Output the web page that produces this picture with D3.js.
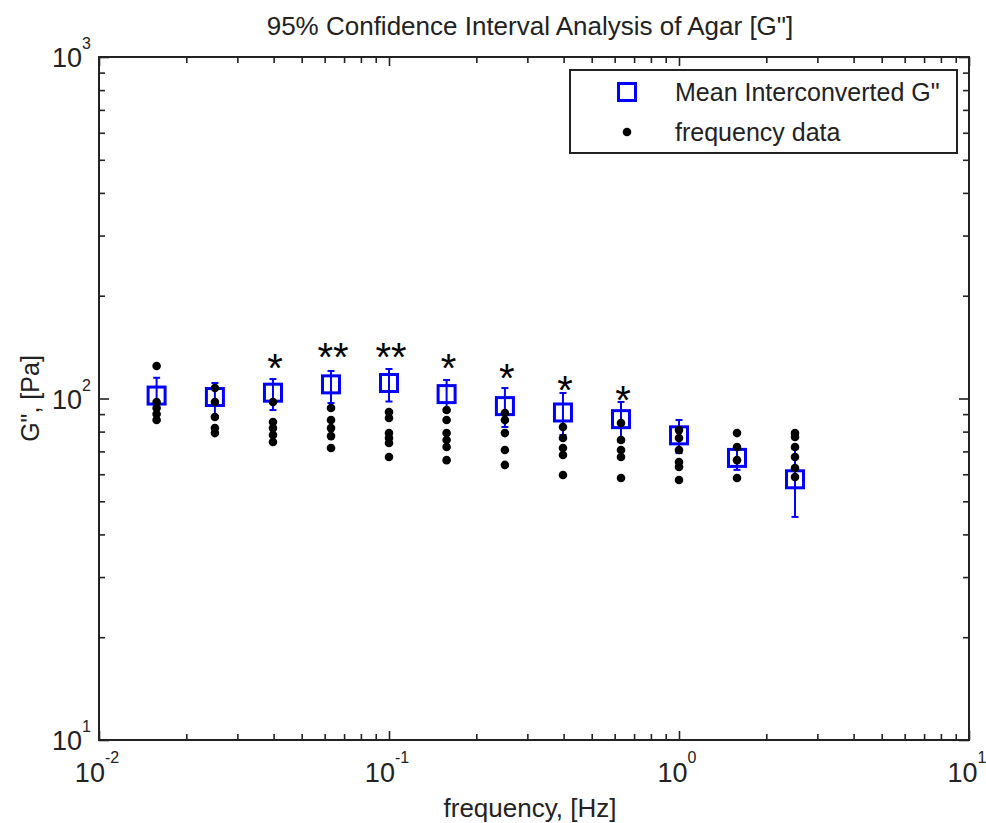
<!DOCTYPE html>
<html>
<head>
<meta charset="utf-8">
<script src="https://cdn.jsdelivr.net/npm/d3@7"></script>
<style>
  html, body { margin: 0; padding: 0; background: #ffffff; }
  svg { display: block; }
  text { font-family: "Liberation Sans", Arial, Helvetica, sans-serif; fill: #222; }
</style>
</head>
<body>
<svg id="chart" width="986" height="823"></svg>
<script>
// ---------------- data ----------------
const freq = [0.0158, 0.0251, 0.0398, 0.0631, 0.1, 0.158, 0.251, 0.398, 0.631, 1.0, 1.585, 2.512];
const meanG = [102, 101, 104, 110, 111, 103, 95, 91, 87, 78, 67, 58];
const ciLow = [90, 89, 92.5, 97, 98, 91.3, 82.5, 78.2, 74.6, 69.2, 61.8, 45];
const ciHigh = [115, 111, 114, 120.4, 122, 113.3, 107.3, 103.8, 97.7, 86.5, 72.1, 71.2];
const rawData = [
  [124.5, 97.7, 93.8, 90.1, 86.5],
  [107.3, 97.7, 88.3, 81.9, 79.2],
  [97.7, 85.3, 81.9, 78.2, 74.6],
  [93.8, 86.5, 81.9, 77.6, 71.6],
  [91.3, 87.7, 79.2, 76.6, 74.1, 67.4],
  [92.5, 86.5, 79.2, 75.6, 72.1, 66.0],
  [90.7, 86.5, 79.2, 70.7, 63.9],
  [82.5, 76.6, 71.6, 68.3, 59.7],
  [84.8, 75.6, 70.7, 67.4, 58.5],
  [80.8, 76.6, 70.7, 65.2, 63.0, 57.7],
  [79.2, 72.1, 66.0, 58.5],
  [79.2, 77.1, 72.1, 67.4, 62.6, 58.9]
];
const starFreq = [0.0398, 0.0631, 0.1, 0.158, 0.251, 0.398, 0.631];
const starLabel = ["*", "**", "**", "*", "*", "*", "*"];
const starG = [131.4, 141.5, 141.5, 131.4, 122.8, 113.3, 105.9];

const xTickValues = [0.01, 0.1, 1, 10];
const xTickExp = ["-2", "-1", "0", "1"];
const yTickValues = [10, 100, 1000];
const yTickExp = ["1", "2", "3"];

const titleText = "95% Confidence Interval Analysis of Agar [G\"]";
const xLabelText = "frequency, [Hz]";
const yLabelText = "G\", [Pa]";
const legendLabels = ["Mean Interconverted G\"", "frequency data"];

// ---------------- layout ----------------
const W = 986, H = 823;
const L = 99, R = 969, T = 57, B = 740;
const blue = "#0000ff";
const axisColor = "#222";

const svg = d3.select("#chart");
const x = d3.scaleLog().domain([0.01, 10]).range([L, R]);
const y = d3.scaleLog().domain([10, 1000]).range([B, T]);

const isMajor = v => Math.abs(Math.log10(v) - Math.round(Math.log10(v))) < 1e-9;
const xMinor = x.ticks().filter(v => !isMajor(v));
const yMinor = y.ticks().filter(v => !isMajor(v));

function styleAxis(g) {
  g.select(".domain").remove();
  g.selectAll(".tick line").attr("stroke", axisColor).attr("stroke-width", 1.6);
  g.selectAll(".tick text").remove();
}

// axes ticks (inside)
svg.append("g").attr("transform", `translate(0,${B})`)
  .call(d3.axisBottom(x).tickValues(xTickValues).tickSize(-9).tickFormat("")).call(styleAxis);
svg.append("g").attr("transform", `translate(0,${B})`)
  .call(d3.axisBottom(x).tickValues(xMinor).tickSize(-6).tickFormat("")).call(styleAxis);
svg.append("g").attr("transform", `translate(0,${T})`)
  .call(d3.axisTop(x).tickValues(xTickValues).tickSize(-9).tickFormat("")).call(styleAxis);
svg.append("g").attr("transform", `translate(0,${T})`)
  .call(d3.axisTop(x).tickValues(xMinor).tickSize(-6).tickFormat("")).call(styleAxis);
svg.append("g").attr("transform", `translate(${L},0)`)
  .call(d3.axisLeft(y).tickValues(yTickValues).tickSize(-10).tickFormat("")).call(styleAxis);
svg.append("g").attr("transform", `translate(${L},0)`)
  .call(d3.axisLeft(y).tickValues(yMinor).tickSize(-6).tickFormat("")).call(styleAxis);
svg.append("g").attr("transform", `translate(${R},0)`)
  .call(d3.axisRight(y).tickValues(yTickValues).tickSize(-10).tickFormat("")).call(styleAxis);
svg.append("g").attr("transform", `translate(${R},0)`)
  .call(d3.axisRight(y).tickValues(yMinor).tickSize(-6).tickFormat("")).call(styleAxis);

// frame
svg.append("rect").attr("x", L).attr("y", T).attr("width", R - L).attr("height", B - T)
  .attr("fill", "none").attr("stroke", axisColor).attr("stroke-width", 2);

// tick labels
const xl = svg.append("g").selectAll("text").data(xTickValues).join("text")
  .attr("x", d => x(d) - 2).attr("y", B + 42).attr("text-anchor", "middle")
  .style("font-size", "27px");
xl.append("tspan").text("10");
xl.append("tspan").attr("dy", -19).style("font-size", "16px").text((d, i) => xTickExp[i]);

const yl = svg.append("g").selectAll("text").data(yTickValues).join("text")
  .attr("x", L - 8).attr("y", d => y(d) + 10).attr("text-anchor", "end")
  .style("font-size", "27px");
yl.append("tspan").text("10");
yl.append("tspan").attr("dy", -18).style("font-size", "16px").text((d, i) => yTickExp[i]);

// title and axis labels
svg.append("text").attr("x", 530).attr("y", 35).attr("text-anchor", "middle")
  .style("font-size", "26px").text(titleText);
svg.append("text").attr("x", 530).attr("y", 817).attr("text-anchor", "middle")
  .style("font-size", "26px").text(xLabelText);
svg.append("text").attr("transform", `translate(39,${(T + B) / 2}) rotate(-90)`)
  .attr("text-anchor", "middle").style("font-size", "25px").text(yLabelText);

// error bars
const eb = svg.append("g");
const capW = 3.5;
freq.forEach((f, i) => {
  const cx = x(f);
  eb.append("line").attr("x1", cx).attr("x2", cx).attr("y1", y(ciLow[i])).attr("y2", y(ciHigh[i]))
    .attr("stroke", blue).attr("stroke-width", 2);
  [ciLow[i], ciHigh[i]].forEach(v => {
    eb.append("line").attr("x1", cx - capW).attr("x2", cx + capW).attr("y1", y(v)).attr("y2", y(v))
      .attr("stroke", blue).attr("stroke-width", 2);
  });
});

// mean squares
svg.append("g").selectAll("rect").data(freq).join("rect")
  .attr("x", d => x(d) - 8.5).attr("y", (d, i) => y(meanG[i]) - 8.5)
  .attr("width", 17).attr("height", 17)
  .attr("fill", "none").attr("stroke", blue).attr("stroke-width", 3);

// raw frequency data
const pts = [];
rawData.forEach((arr, i) => arr.forEach(v => pts.push([freq[i], v])));
svg.append("g").selectAll("path").data(pts).join("path")
  .attr("transform", d => `translate(${x(d[0])},${y(d[1])})`)
  .attr("d", d3.symbol().type(d3.symbolCircle).size(58))
  .attr("fill", "#000");

// significance stars
svg.append("g").selectAll("text").data(starFreq).join("text")
  .attr("x", d => x(d) + 2).attr("y", (d, i) => y(starG[i]) + 24)
  .attr("text-anchor", "middle").style("font-size", "40px").style("fill", "#000")
  .text((d, i) => starLabel[i]);

// legend
const lg = svg.append("g");
lg.append("rect").attr("x", 570).attr("y", 70).attr("width", 387).attr("height", 83)
  .attr("fill", "#fff").attr("stroke", axisColor).attr("stroke-width", 2);
lg.append("rect").attr("x", 627 - 8.5).attr("y", 92 - 8.5).attr("width", 17).attr("height", 17)
  .attr("fill", "none").attr("stroke", blue).attr("stroke-width", 3);
lg.append("path").attr("transform", "translate(627,132)")
  .attr("d", d3.symbol().type(d3.symbolCircle).size(58)).attr("fill", "#000");
lg.selectAll("text.leg").data(legendLabels).join("text").attr("class", "leg")
  .attr("x", 675).attr("y", (d, i) => 101 + i * 40)
  .style("font-size", "25px").text(d => d);
</script>
</body>
</html>
